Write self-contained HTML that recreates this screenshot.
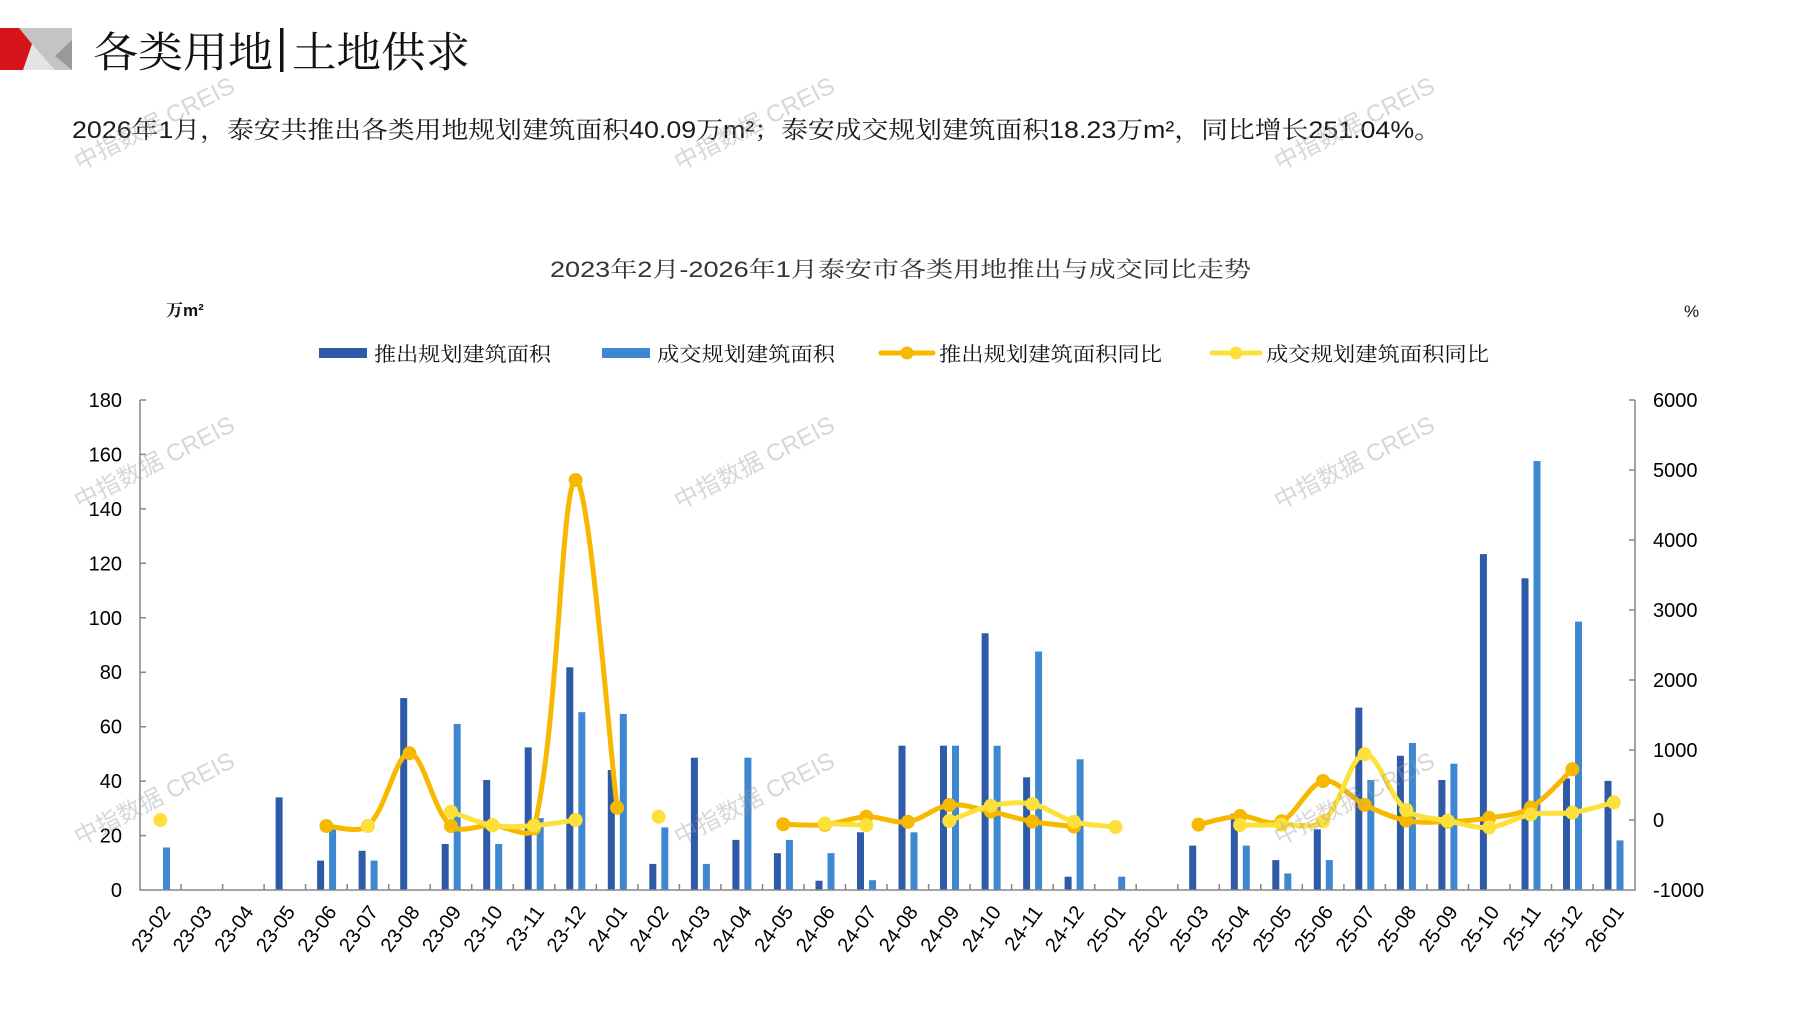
<!DOCTYPE html>
<html>
<head>
<meta charset="utf-8">
<style>
html,body{margin:0;padding:0;background:#fff;}
body{width:1797px;height:1010px;overflow:hidden;}
svg{display:block;}
.cn{font-family:"Liberation Sans","Noto Serif CJK SC",serif;}
.ax{font-family:"Liberation Sans",sans-serif;font-size:20px;fill:#000;}
.wm{font-family:"Liberation Sans","Noto Sans CJK SC",sans-serif;font-size:24px;fill:#9a9a9a;fill-opacity:0.4;}
</style>
</head>
<body>
<svg width="1797" height="1010" viewBox="0 0 1797 1010" xmlns="http://www.w3.org/2000/svg">
<rect width="1797" height="1010" fill="#fff"/>

<!-- logo -->
<polygon points="19,28 72,28 72,70 23,70 32,44" fill="#c4c4c4"/>
<polygon points="32,44 55,70 23,70" fill="#e4e4e4"/>
<polygon points="72,40 72,70 55,56" fill="#999"/>
<polygon points="0,28 19,28 32,44 23,70 0,70" fill="#d7141a"/>

<!-- page title -->
<text class="cn" x="93" y="67" font-size="42" fill="#111" textLength="180" lengthAdjust="spacingAndGlyphs">各类用地</text>
<rect x="280" y="28" width="3.5" height="44" fill="#111"/>
<text class="cn" x="292" y="67" font-size="42" fill="#111" textLength="178" lengthAdjust="spacingAndGlyphs">土地供求</text>

<!-- summary -->
<text class="cn" x="72" y="138" font-size="24" fill="#1a1a1a" textLength="1369" lengthAdjust="spacingAndGlyphs">2026年1月，泰安共推出各类用地规划建筑面积40.09万m²；泰安成交规划建筑面积18.23万m²，同比增长251.04%。</text>

<!-- chart title -->
<text class="cn" x="550" y="277" font-size="22" fill="#333" textLength="701" lengthAdjust="spacingAndGlyphs">2023年2月-2026年1月泰安市各类用地推出与成交同比走势</text>

<!-- units -->
<text class="cn" x="166" y="316" font-size="17" fill="#111" font-weight="bold">万m²</text>
<text class="cn" x="1684" y="317" font-size="17" fill="#111">%</text>

<!-- legend -->
<rect x="319" y="348" width="48" height="10" fill="#2E5AA7"/>
<text class="cn" x="374" y="361" font-size="20" fill="#111" textLength="177" lengthAdjust="spacingAndGlyphs">推出规划建筑面积</text>
<rect x="602" y="348" width="48" height="10" fill="#3E87D1"/>
<text class="cn" x="657" y="361" font-size="20" fill="#111" textLength="178" lengthAdjust="spacingAndGlyphs">成交规划建筑面积</text>
<line x1="881" y1="353" x2="933" y2="353" stroke="#F7B900" stroke-width="5" stroke-linecap="round"/>
<circle cx="907" cy="353" r="6.5" fill="#F7B900"/>
<text class="cn" x="939" y="361" font-size="20" fill="#111" textLength="223" lengthAdjust="spacingAndGlyphs">推出规划建筑面积同比</text>
<line x1="1212" y1="353" x2="1260" y2="353" stroke="#FDE13A" stroke-width="5" stroke-linecap="round"/>
<circle cx="1236" cy="353" r="6.5" fill="#FDE13A"/>
<text class="cn" x="1266" y="361" font-size="20" fill="#111" textLength="223" lengthAdjust="spacingAndGlyphs">成交规划建筑面积同比</text>

<!-- bars dark -->
<g fill="#2E5AA7">
<rect x="275.6" y="797.4" width="7" height="92.6"/>
<rect x="317.1" y="860.6" width="7" height="29.4"/>
<rect x="358.6" y="850.8" width="7" height="39.2"/>
<rect x="400.2" y="698.1" width="7" height="191.9"/>
<rect x="441.7" y="844.0" width="7" height="46.0"/>
<rect x="483.2" y="780.0" width="7" height="110.0"/>
<rect x="524.7" y="747.4" width="7" height="142.6"/>
<rect x="566.3" y="667.3" width="7" height="222.7"/>
<rect x="607.8" y="770.0" width="7" height="120.0"/>
<rect x="649.3" y="863.9" width="7" height="26.1"/>
<rect x="690.9" y="757.7" width="7" height="132.3"/>
<rect x="732.4" y="839.9" width="7" height="50.1"/>
<rect x="773.9" y="853.2" width="7" height="36.8"/>
<rect x="815.5" y="880.7" width="7" height="9.3"/>
<rect x="857.0" y="832.3" width="7" height="57.7"/>
<rect x="898.5" y="745.7" width="7" height="144.3"/>
<rect x="940.0" y="745.7" width="7" height="144.3"/>
<rect x="981.6" y="633.3" width="7" height="256.7"/>
<rect x="1023.1" y="777.3" width="7" height="112.7"/>
<rect x="1064.6" y="876.7" width="7" height="13.3"/>
<rect x="1189.2" y="845.6" width="7" height="44.4"/>
<rect x="1230.8" y="813.8" width="7" height="76.2"/>
<rect x="1272.3" y="860.1" width="7" height="29.9"/>
<rect x="1313.8" y="829.3" width="7" height="60.7"/>
<rect x="1355.3" y="707.6" width="7" height="182.4"/>
<rect x="1396.9" y="755.8" width="7" height="134.2"/>
<rect x="1438.4" y="780.0" width="7" height="110.0"/>
<rect x="1479.9" y="554.1" width="7" height="335.9"/>
<rect x="1521.5" y="578.3" width="7" height="311.7"/>
<rect x="1563.0" y="778.4" width="7" height="111.6"/>
<rect x="1604.5" y="780.9" width="7" height="109.1"/>
</g>
<!-- bars light -->
<g fill="#3E87D1">
<rect x="163.0" y="847.5" width="7" height="42.5"/>
<rect x="329.1" y="829.0" width="7" height="61.0"/>
<rect x="370.6" y="860.6" width="7" height="29.4"/>
<rect x="453.7" y="723.9" width="7" height="166.1"/>
<rect x="495.2" y="844.0" width="7" height="46.0"/>
<rect x="536.7" y="818.1" width="7" height="71.9"/>
<rect x="578.3" y="712.2" width="7" height="177.8"/>
<rect x="619.8" y="713.9" width="7" height="176.1"/>
<rect x="661.3" y="827.4" width="7" height="62.6"/>
<rect x="702.9" y="863.9" width="7" height="26.1"/>
<rect x="744.4" y="757.7" width="7" height="132.3"/>
<rect x="785.9" y="839.9" width="7" height="50.1"/>
<rect x="827.5" y="853.2" width="7" height="36.8"/>
<rect x="869.0" y="880.2" width="7" height="9.8"/>
<rect x="910.5" y="832.3" width="7" height="57.7"/>
<rect x="952.0" y="745.7" width="7" height="144.3"/>
<rect x="993.6" y="745.7" width="7" height="144.3"/>
<rect x="1035.1" y="651.5" width="7" height="238.5"/>
<rect x="1076.6" y="759.3" width="7" height="130.7"/>
<rect x="1118.2" y="876.7" width="7" height="13.3"/>
<rect x="1242.8" y="845.6" width="7" height="44.4"/>
<rect x="1284.3" y="873.4" width="7" height="16.6"/>
<rect x="1325.8" y="860.1" width="7" height="29.9"/>
<rect x="1367.3" y="780.0" width="7" height="110.0"/>
<rect x="1408.9" y="743.0" width="7" height="147.0"/>
<rect x="1450.4" y="763.7" width="7" height="126.3"/>
<rect x="1533.5" y="461.0" width="7" height="429.0"/>
<rect x="1575.0" y="621.6" width="7" height="268.4"/>
<rect x="1616.5" y="840.4" width="7" height="49.6"/>
</g>

<!-- axes -->
<g stroke="#868686" stroke-width="1.5" fill="none">
<path d="M140,400 V890 H1635 V400"/>
<path d="M140,400 h6 M140,454.4 h6 M140,508.9 h6 M140,563.3 h6 M140,617.8 h6 M140,672.2 h6 M140,726.7 h6 M140,781.1 h6 M140,835.6 h6"/>
<path d="M1635,400 h-6 M1635,470 h-6 M1635,540 h-6 M1635,610 h-6 M1635,680 h-6 M1635,750 h-6 M1635,820 h-6"/>
<path d="M181.0,890 v-6 M222.6,890 v-6 M264.1,890 v-6 M305.6,890 v-6 M347.2,890 v-6 M388.7,890 v-6 M430.2,890 v-6 M471.7,890 v-6 M513.3,890 v-6 M554.8,890 v-6 M596.3,890 v-6 M637.9,890 v-6 M679.4,890 v-6 M720.9,890 v-6 M762.5,890 v-6 M804.0,890 v-6 M845.5,890 v-6 M887.0,890 v-6 M928.6,890 v-6 M970.1,890 v-6 M1011.6,890 v-6 M1053.2,890 v-6 M1094.7,890 v-6 M1136.2,890 v-6 M1177.8,890 v-6 M1219.3,890 v-6 M1260.8,890 v-6 M1302.3,890 v-6 M1343.9,890 v-6 M1385.4,890 v-6 M1426.9,890 v-6 M1468.5,890 v-6 M1510.0,890 v-6 M1551.5,890 v-6 M1593.1,890 v-6"/>
</g>

<!-- left axis labels -->
<g class="ax" text-anchor="end">
<text x="122" y="897">0</text>
<text x="122" y="842.6">20</text>
<text x="122" y="788.1">40</text>
<text x="122" y="733.7">60</text>
<text x="122" y="679.2">80</text>
<text x="122" y="624.8">100</text>
<text x="122" y="570.3">120</text>
<text x="122" y="515.9">140</text>
<text x="122" y="461.4">160</text>
<text x="122" y="407">180</text>
</g>
<!-- right axis labels -->
<g class="ax">
<text x="1653" y="897">-1000</text>
<text x="1653" y="827">0</text>
<text x="1653" y="757">1000</text>
<text x="1653" y="687">2000</text>
<text x="1653" y="617">3000</text>
<text x="1653" y="547">4000</text>
<text x="1653" y="477">5000</text>
<text x="1653" y="407">6000</text>
</g>

<!-- x labels -->
<g class="ax" text-anchor="end">
<text transform="translate(171.3,912) rotate(-54)">23-02</text>
<text transform="translate(212.8,912) rotate(-54)">23-03</text>
<text transform="translate(254.3,912) rotate(-54)">23-04</text>
<text transform="translate(295.9,912) rotate(-54)">23-05</text>
<text transform="translate(337.4,912) rotate(-54)">23-06</text>
<text transform="translate(378.9,912) rotate(-54)">23-07</text>
<text transform="translate(420.5,912) rotate(-54)">23-08</text>
<text transform="translate(462.0,912) rotate(-54)">23-09</text>
<text transform="translate(503.5,912) rotate(-54)">23-10</text>
<text transform="translate(545.0,912) rotate(-54)">23-11</text>
<text transform="translate(586.6,912) rotate(-54)">23-12</text>
<text transform="translate(628.1,912) rotate(-54)">24-01</text>
<text transform="translate(669.6,912) rotate(-54)">24-02</text>
<text transform="translate(711.2,912) rotate(-54)">24-03</text>
<text transform="translate(752.7,912) rotate(-54)">24-04</text>
<text transform="translate(794.2,912) rotate(-54)">24-05</text>
<text transform="translate(835.8,912) rotate(-54)">24-06</text>
<text transform="translate(877.3,912) rotate(-54)">24-07</text>
<text transform="translate(918.8,912) rotate(-54)">24-08</text>
<text transform="translate(960.3,912) rotate(-54)">24-09</text>
<text transform="translate(1001.9,912) rotate(-54)">24-10</text>
<text transform="translate(1043.4,912) rotate(-54)">24-11</text>
<text transform="translate(1084.9,912) rotate(-54)">24-12</text>
<text transform="translate(1126.5,912) rotate(-54)">25-01</text>
<text transform="translate(1168.0,912) rotate(-54)">25-02</text>
<text transform="translate(1209.5,912) rotate(-54)">25-03</text>
<text transform="translate(1251.1,912) rotate(-54)">25-04</text>
<text transform="translate(1292.6,912) rotate(-54)">25-05</text>
<text transform="translate(1334.1,912) rotate(-54)">25-06</text>
<text transform="translate(1375.6,912) rotate(-54)">25-07</text>
<text transform="translate(1417.2,912) rotate(-54)">25-08</text>
<text transform="translate(1458.7,912) rotate(-54)">25-09</text>
<text transform="translate(1500.2,912) rotate(-54)">25-10</text>
<text transform="translate(1541.8,912) rotate(-54)">25-11</text>
<text transform="translate(1583.3,912) rotate(-54)">25-12</text>
<text transform="translate(1624.8,912) rotate(-54)">26-01</text>
</g>

<!-- orange line -->
<g fill="none" stroke="#F7B900" stroke-width="5" stroke-linejoin="round" stroke-linecap="round">
<path d="M326.4,826.0 C333.3,826.0 358.7,834.0 367.9,826.0 C386.4,809.8 395.6,753.3 409.5,753.3 C423.4,753.3 432.5,810.0 451.0,826.0 C460.2,834.0 478.7,824.9 492.5,825.3 C506.3,825.7 531.1,840.6 534.0,828.4 C558.8,725.5 561.3,483.6 575.6,480.0 C589.0,476.7 610.2,753.1 617.1,807.7"/>
<path d="M783.2,824.2 C790.1,824.3 811.0,826.1 824.8,824.8 C838.7,823.6 852.5,817.2 866.3,816.7 C880.1,816.2 894.0,823.7 907.8,821.8 C921.6,819.8 935.5,806.7 949.3,805.0 C963.2,803.3 977.1,808.9 990.9,811.6 C1004.8,814.4 1018.6,819.0 1032.4,821.5 C1046.2,824.0 1067.0,825.8 1073.9,826.6"/>
<path d="M1198.5,824.6 C1205.4,823.2 1226.3,816.6 1240.1,816.0 C1254.0,815.5 1267.8,827.1 1281.6,821.3 C1295.4,815.5 1309.3,783.7 1323.1,781.0 C1336.9,778.3 1350.8,798.3 1364.6,804.9 C1378.5,811.5 1392.4,817.7 1406.2,820.5 C1420.1,823.3 1433.9,822.2 1447.7,821.7 C1461.5,821.3 1475.4,820.2 1489.2,817.8 C1503.1,815.5 1517.0,815.7 1530.8,807.6 C1544.7,799.5 1565.4,775.7 1572.3,769.3"/>
</g>
<g fill="#F7B900">
<circle cx="326.4" cy="826.0" r="7"/><circle cx="367.9" cy="826.0" r="7"/><circle cx="409.5" cy="753.3" r="7"/><circle cx="451.0" cy="826.0" r="7"/><circle cx="492.5" cy="825.3" r="7"/><circle cx="534.0" cy="828.4" r="7"/><circle cx="575.6" cy="480.0" r="7"/><circle cx="617.1" cy="807.7" r="7"/>
<circle cx="783.2" cy="824.2" r="7"/><circle cx="824.8" cy="824.8" r="7"/><circle cx="866.3" cy="816.7" r="7"/><circle cx="907.8" cy="821.8" r="7"/><circle cx="949.3" cy="805.0" r="7"/><circle cx="990.9" cy="811.6" r="7"/><circle cx="1032.4" cy="821.5" r="7"/><circle cx="1073.9" cy="826.6" r="7"/>
<circle cx="1198.5" cy="824.6" r="7"/><circle cx="1240.1" cy="816.0" r="7"/><circle cx="1281.6" cy="821.3" r="7"/><circle cx="1323.1" cy="781.0" r="7"/><circle cx="1364.6" cy="804.9" r="7"/><circle cx="1406.2" cy="820.5" r="7"/><circle cx="1447.7" cy="821.7" r="7"/><circle cx="1489.2" cy="817.8" r="7"/><circle cx="1530.8" cy="807.6" r="7"/><circle cx="1572.3" cy="769.3" r="7"/>
</g>

<!-- yellow line -->
<g fill="none" stroke="#FDE13A" stroke-width="5" stroke-linejoin="round" stroke-linecap="round">
<path d="M451.0,811.7 C457.9,814.0 478.7,823.0 492.5,825.3 C506.3,827.6 520.2,826.5 534.0,825.6 C547.9,824.7 568.7,820.9 575.6,820.0"/>
<path d="M824.8,823.5 L866.3,825.3"/>
<path d="M949.3,820.9 C956.2,818.4 977.1,808.5 990.9,805.7 C1004.8,802.9 1018.6,801.3 1032.4,804.0 C1046.2,806.7 1060.1,817.9 1073.9,821.7 C1087.8,825.5 1108.6,826.1 1115.5,827.0"/>
<path d="M1240.1,825.0 C1247.0,825.0 1267.8,825.3 1281.6,824.7 C1295.4,824.1 1313.6,829.4 1323.1,821.3 C1341.2,805.9 1349.9,756.2 1364.6,754.2 C1377.6,752.4 1389.1,796.3 1406.2,810.0 C1416.8,818.5 1433.9,817.9 1447.7,820.8 C1461.5,823.7 1475.4,828.5 1489.2,827.4 C1503.1,826.3 1517.0,816.9 1530.8,814.4 C1544.7,811.9 1558.5,814.65 1572.3,812.65 C1586.1,810.65 1606.9,804.1 1613.8,802.4"/>
</g>
<g fill="#FDE13A">
<circle cx="160.3" cy="820.0" r="7"/><circle cx="367.9" cy="826.0" r="7"/>
<circle cx="451.0" cy="811.7" r="7"/><circle cx="492.5" cy="825.3" r="7"/><circle cx="534.0" cy="825.6" r="7"/><circle cx="575.6" cy="820.0" r="7"/>
<circle cx="658.6" cy="816.7" r="7"/>
<circle cx="824.8" cy="823.5" r="7"/><circle cx="866.3" cy="825.3" r="7"/>
<circle cx="949.3" cy="820.9" r="7"/><circle cx="990.9" cy="805.7" r="7"/><circle cx="1032.4" cy="804.0" r="7"/><circle cx="1073.9" cy="821.7" r="7"/><circle cx="1115.5" cy="827.0" r="7"/>
<circle cx="1240.1" cy="825.0" r="7"/><circle cx="1281.6" cy="824.7" r="7"/><circle cx="1323.1" cy="821.3" r="7"/><circle cx="1364.6" cy="754.2" r="7"/><circle cx="1406.2" cy="810.0" r="7"/><circle cx="1447.7" cy="820.8" r="7"/><circle cx="1489.2" cy="827.4" r="7"/><circle cx="1530.8" cy="814.4" r="7"/><circle cx="1572.3" cy="812.65" r="7"/><circle cx="1613.8" cy="802.4" r="7"/>
</g>

<!-- watermarks -->
<g class="wm" text-anchor="middle">
<text transform="translate(158,131) rotate(-27)">中指数据 CREIS</text>
<text transform="translate(758,131) rotate(-27)">中指数据 CREIS</text>
<text transform="translate(1358,131) rotate(-27)">中指数据 CREIS</text>
<text transform="translate(158,470) rotate(-27)">中指数据 CREIS</text>
<text transform="translate(758,470) rotate(-27)">中指数据 CREIS</text>
<text transform="translate(1358,470) rotate(-27)">中指数据 CREIS</text>
<text transform="translate(158,806) rotate(-27)">中指数据 CREIS</text>
<text transform="translate(758,806) rotate(-27)">中指数据 CREIS</text>
<text transform="translate(1358,806) rotate(-27)">中指数据 CREIS</text>
</g>
</svg>
</body>
</html>
